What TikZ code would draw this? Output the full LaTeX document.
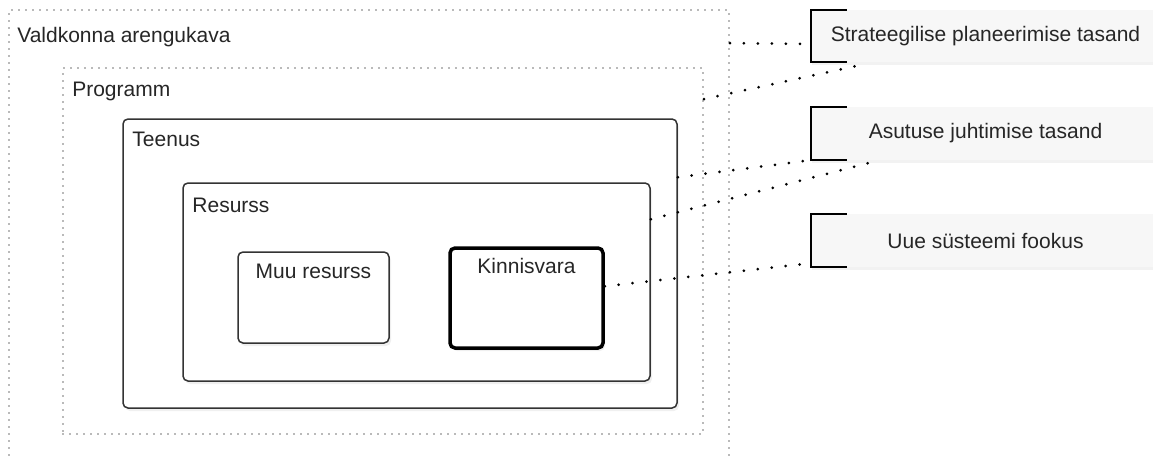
\documentclass[tikz,border=0pt]{standalone}
\usepackage{fontspec}
\setmainfont{Liberation Sans}
\usetikzlibrary{shadows}

\begin{document}
\begin{tikzpicture}[x=1pt, y=-1pt,
      every node/.style={font=\fontsize{21}{25}\selectfont, text=black!85},
      outer/.style={rectangle, draw=black!55, line width=1.8pt, dash pattern=on 0pt off 7pt, line cap=round, inner sep=0pt},
      box/.style={rectangle, draw=black!80, line width=1.5pt, rounded corners=5pt, fill=white, inner sep=0pt,
                  drop shadow={opacity=0.12, shadow xshift=2pt, shadow yshift=-3pt}},
      note/.style={rectangle, fill=black!3, inner sep=0pt, minimum width=349pt,
                  drop shadow={opacity=0.10, shadow xshift=1pt, shadow yshift=-3pt}},
      bracket/.style={draw=black, line width=1.5pt},
      lbl/.style={anchor=mid west, inner sep=0pt},
      link/.style={line width=3pt, dash pattern=on 0pt off 14pt, line cap=round}]

\useasboundingbox (0,0) rectangle (1153,458);

% nested boxes
\node[outer, minimum width=720pt, minimum height=460pt] (valdkonna) at (369,240) {};
\node[outer, minimum width=640pt, minimum height=366pt] (programm) at (383,251) {};
\node[box, minimum width=554pt, minimum height=289pt] (teenus) at (400,263.5) {};
\node[box, minimum width=467pt, minimum height=198pt] (resurss) at (416.5,282) {};
\node[box, minimum width=151pt, minimum height=91pt] (muu) at (313.5,297.5) {};
\node[box, line width=3.5pt, draw=black, minimum width=153pt, minimum height=100pt] (kinnis) at (526.5,298) {};

\node[lbl] at ([xshift=9pt,yshift=-31pt]valdkonna.north west) {Valdkonna arengukava};
\node[lbl] at ([xshift=10pt,yshift=-27pt]programm.north west) {Programm};
\node[lbl] at ([xshift=10pt,yshift=-26pt]teenus.north west) {Teenus};
\node[lbl] at ([xshift=10pt,yshift=-28pt]resurss.north west) {Resurss};
\node[anchor=mid, inner sep=0pt] at ([yshift=-25pt]muu.north) {Muu resurss};
\node[anchor=mid, inner sep=0pt] at ([yshift=-25pt]kinnis.north) {Kinnisvara};

% levels
\node[note, minimum height=52pt] (strat) at (985.5,36) {Strateegilise planeerimise tasand};
\node[note, minimum height=53pt] (asut) at (985.5,133.5) {Asutuse juhtimise tasand};
\node[note, minimum height=53pt] (uue) at (985.5,240.5) {Uue süsteemi fookus};

\foreach \n in {strat,asut,uue}
  \draw[bracket] ([xshift=36pt]\n.north west) -- (\n.north west) -- (\n.south west) -- ([xshift=36pt]\n.south west);

\draw[link] ([yshift=-34pt]valdkonna.north east) -- ([yshift=-8pt]strat.west);
\draw[link] ([yshift=-32pt]programm.north east) -- ([xshift=49pt,yshift=-3pt]strat.south west);
\draw[link] ([yshift=-59pt]teenus.north east) -- (asut.south west);
\draw[link] ([yshift=-37pt]resurss.north east) -- ([xshift=61pt,yshift=-2pt]asut.south west);
\draw[link] ([yshift=-40pt]kinnis.north east) -- ([yshift=4pt]uue.south west);

\end{tikzpicture}
\end{document}
